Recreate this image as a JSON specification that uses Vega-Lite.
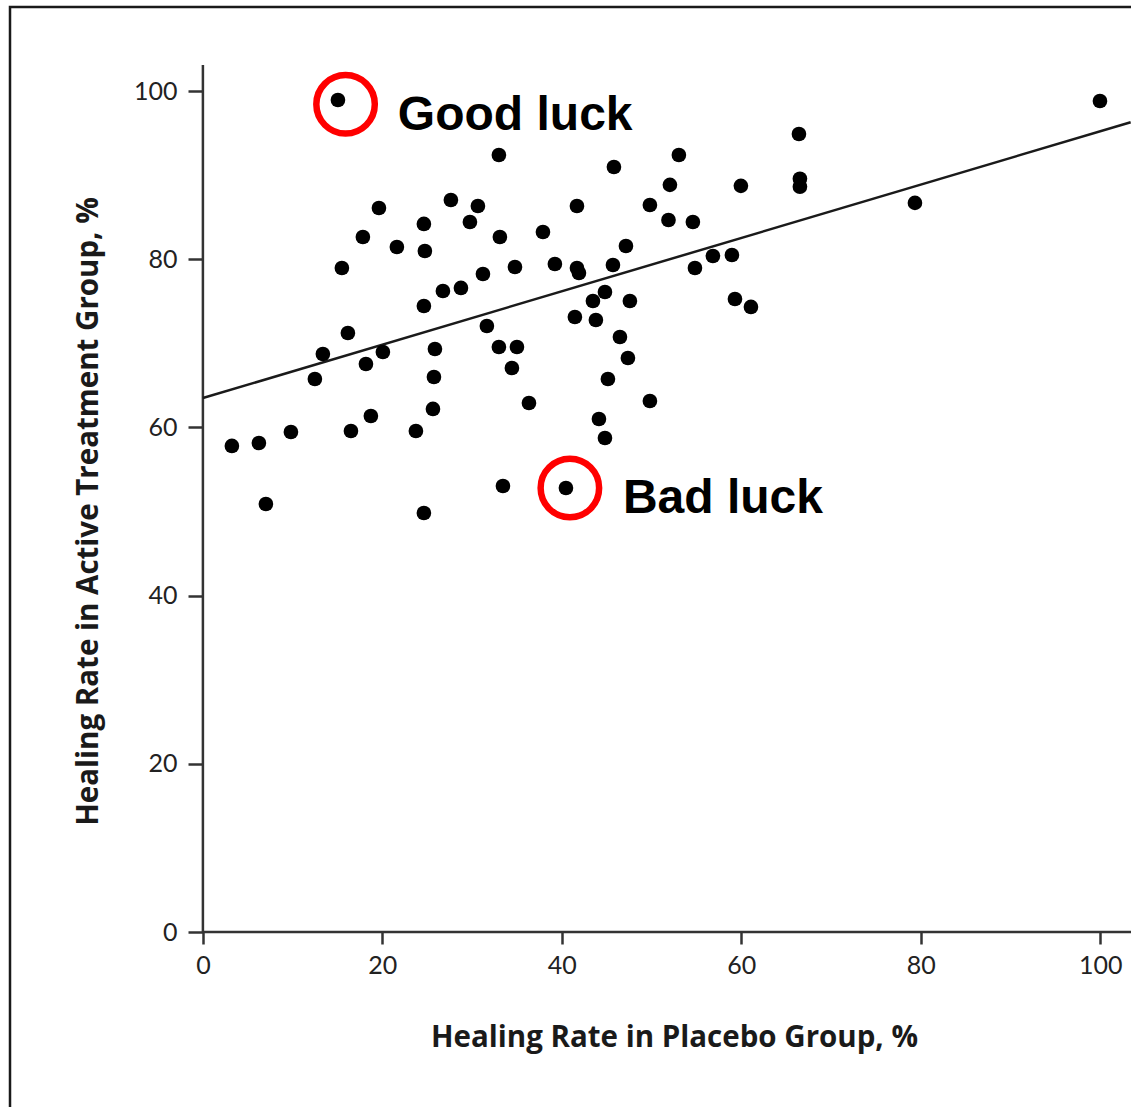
{
  "$schema": "https://vega.github.io/schema/vega-lite/v6.json",
  "width": 1135,
  "height": 1110,
  "autosize": {"type": "none"},
  "padding": {"left": 10, "top": 7, "right": 0, "bottom": 0},
  "background": "#ffffff",
  "config": {"view": {"stroke": "#1a1a1a", "strokeWidth": 2.5}},
  "datasets": {
    "trials": [
      {"placebo": 15.05, "active": 98.94},
      {"placebo": 99.98, "active": 98.82},
      {"placebo": 32.99, "active": 92.40},
      {"placebo": 45.81, "active": 90.97},
      {"placebo": 53.05, "active": 92.40},
      {"placebo": 66.43, "active": 94.90},
      {"placebo": 52.05, "active": 88.85},
      {"placebo": 59.96, "active": 88.73},
      {"placebo": 66.54, "active": 89.57},
      {"placebo": 66.54, "active": 88.62},
      {"placebo": 19.62, "active": 86.10},
      {"placebo": 27.64, "active": 87.05},
      {"placebo": 30.65, "active": 86.34},
      {"placebo": 41.69, "active": 86.34},
      {"placebo": 49.82, "active": 86.45},
      {"placebo": 79.36, "active": 86.70},
      {"placebo": 24.63, "active": 84.20},
      {"placebo": 29.76, "active": 84.43},
      {"placebo": 51.89, "active": 84.67},
      {"placebo": 54.61, "active": 84.43},
      {"placebo": 17.83, "active": 82.65},
      {"placebo": 21.62, "active": 81.46},
      {"placebo": 24.74, "active": 80.98},
      {"placebo": 33.10, "active": 82.65},
      {"placebo": 37.90, "active": 83.24},
      {"placebo": 47.15, "active": 81.58},
      {"placebo": 15.49, "active": 78.96},
      {"placebo": 34.78, "active": 79.08},
      {"placebo": 39.23, "active": 79.44},
      {"placebo": 41.69, "active": 78.96},
      {"placebo": 41.91, "active": 78.37},
      {"placebo": 45.70, "active": 79.32},
      {"placebo": 31.21, "active": 78.25},
      {"placebo": 54.84, "active": 78.96},
      {"placebo": 56.84, "active": 80.39},
      {"placebo": 58.96, "active": 80.51},
      {"placebo": 26.75, "active": 76.23},
      {"placebo": 28.76, "active": 76.59},
      {"placebo": 44.81, "active": 76.11},
      {"placebo": 43.47, "active": 75.04},
      {"placebo": 47.59, "active": 75.04},
      {"placebo": 59.30, "active": 75.28},
      {"placebo": 61.08, "active": 74.33},
      {"placebo": 24.63, "active": 74.44},
      {"placebo": 41.46, "active": 73.14},
      {"placebo": 43.80, "active": 72.78},
      {"placebo": 16.16, "active": 71.23},
      {"placebo": 31.65, "active": 72.07},
      {"placebo": 46.48, "active": 70.76},
      {"placebo": 13.37, "active": 68.74},
      {"placebo": 20.06, "active": 68.97},
      {"placebo": 25.86, "active": 69.33},
      {"placebo": 32.99, "active": 69.57},
      {"placebo": 35.00, "active": 69.57},
      {"placebo": 18.17, "active": 67.55},
      {"placebo": 34.44, "active": 67.07},
      {"placebo": 47.37, "active": 68.26},
      {"placebo": 12.48, "active": 65.76},
      {"placebo": 25.75, "active": 66.00},
      {"placebo": 45.14, "active": 65.76},
      {"placebo": 25.64, "active": 62.20},
      {"placebo": 36.34, "active": 62.91},
      {"placebo": 49.82, "active": 63.15},
      {"placebo": 18.72, "active": 61.36},
      {"placebo": 44.14, "active": 61.01},
      {"placebo": 44.81, "active": 58.75},
      {"placebo": 3.23, "active": 57.80},
      {"placebo": 6.24, "active": 58.15},
      {"placebo": 9.81, "active": 59.46},
      {"placebo": 16.50, "active": 59.58},
      {"placebo": 23.74, "active": 59.58},
      {"placebo": 7.02, "active": 50.90},
      {"placebo": 24.63, "active": 49.83},
      {"placebo": 33.44, "active": 53.04},
      {"placebo": 40.46, "active": 52.80}
    ],
    "notes": [
      {"label": "Good luck", "cx": 15.9, "cy": 98.43, "tx": 21.73, "ty": 95.37},
      {"label": "Bad luck", "cx": 40.9, "cy": 52.8, "tx": 46.81, "ty": 49.83}
    ]
  },
  "layer": [
    {
      "description": "x-axis line, starting at the origin",
      "data": {"values": [{}]},
      "mark": {"type": "rule", "color": "#333333", "strokeWidth": 2.5},
      "encoding": {
        "x": {"datum": 0, "type": "quantitative", "scale": {"domain": [-21.5, 105], "nice": false, "zero": false}},
        "x2": {"datum": 105},
        "y": {"datum": 0, "type": "quantitative", "scale": {"domain": [-22, 110], "nice": false, "zero": false}}
      }
    },
    {
      "description": "y-axis line, starting at the origin",
      "data": {"values": [{}]},
      "mark": {"type": "rule", "color": "#333333", "strokeWidth": 2.5},
      "encoding": {
        "x": {"datum": 0, "type": "quantitative", "scale": {"domain": [-21.5, 105], "nice": false, "zero": false}},
        "y": {"datum": 0, "type": "quantitative", "scale": {"domain": [-22, 110], "nice": false, "zero": false}},
        "y2": {"datum": 103.1}
      }
    },
    {
      "description": "fitted line",
      "data": {"values": [{}]},
      "mark": {"type": "rule", "color": "#1a1a1a", "strokeWidth": 2.5},
      "encoding": {
        "x": {"datum": 0, "type": "quantitative", "scale": {"domain": [-21.5, 105], "nice": false, "zero": false}},
        "x2": {"datum": 103.4},
        "y": {"datum": 63.5, "type": "quantitative", "scale": {"domain": [-22, 110], "nice": false, "zero": false}},
        "y2": {"datum": 96.3}
      }
    },
    {
      "data": {"name": "trials"},
      "mark": {"type": "circle", "size": 215, "color": "#000000", "opacity": 1},
      "encoding": {
        "x": {
          "field": "placebo",
          "type": "quantitative",
          "scale": {"domain": [-21.5, 105], "nice": false, "zero": false},
          "axis": {
            "orient": "bottom",
            "offset": -185,
            "values": [0, 20, 40, 60, 80, 100],
            "domain": false,
            "grid": false,
            "tickSize": 12,
            "tickWidth": 2.5,
            "tickColor": "#333333",
            "labelFont": "Lato",
            "labelFontSize": 25,
            "labelColor": "#222222",
            "labelPadding": 9,
            "labelFlush": false,
            "labelOverlap": false,
            "title": "Healing Rate in Placebo Group, %",
            "titleFont": "Open Sans",
            "titleFontSize": 29.5,
            "titleFontWeight": "bold",
            "titleColor": "#1a1a1a",
            "titleX": 664,
            "titleY": 114,
            "titleAlign": "center",
            "titleBaseline": "alphabetic"
          }
        },
        "y": {
          "field": "active",
          "type": "quantitative",
          "scale": {"domain": [-22, 110], "nice": false, "zero": false},
          "axis": {
            "orient": "left",
            "offset": -193,
            "values": [0, 20, 40, 60, 80, 100],
            "domain": false,
            "grid": false,
            "tickSize": 15,
            "tickWidth": 2.5,
            "tickColor": "#333333",
            "labelFont": "Lato",
            "labelFontSize": 25,
            "labelColor": "#222222",
            "labelPadding": 11,
            "labelFlush": false,
            "labelOverlap": false,
            "title": "Healing Rate in Active Treatment Group, %",
            "titleFont": "Open Sans",
            "titleFontSize": 29.5,
            "titleFontWeight": "bold",
            "titleColor": "#1a1a1a",
            "titleAngle": -90,
            "titleX": -106,
            "titleY": 504,
            "titleAlign": "center",
            "titleBaseline": "alphabetic"
          }
        }
      }
    },
    {
      "data": {"name": "notes"},
      "mark": {"type": "point", "shape": "circle", "filled": false, "size": 3420, "stroke": "#ff0000", "strokeWidth": 6.5, "opacity": 1},
      "encoding": {
        "x": {"field": "cx", "type": "quantitative", "scale": {"domain": [-21.5, 105], "nice": false, "zero": false}},
        "y": {"field": "cy", "type": "quantitative", "scale": {"domain": [-22, 110], "nice": false, "zero": false}}
      }
    },
    {
      "data": {"name": "notes"},
      "mark": {"type": "text", "font": "Liberation Sans", "fontWeight": "bold", "fontSize": 48, "align": "left", "baseline": "alphabetic", "color": "#000000"},
      "encoding": {
        "x": {"field": "tx", "type": "quantitative", "scale": {"domain": [-21.5, 105], "nice": false, "zero": false}},
        "y": {"field": "ty", "type": "quantitative", "scale": {"domain": [-22, 110], "nice": false, "zero": false}},
        "text": {"field": "label"}
      }
    }
  ]
}
